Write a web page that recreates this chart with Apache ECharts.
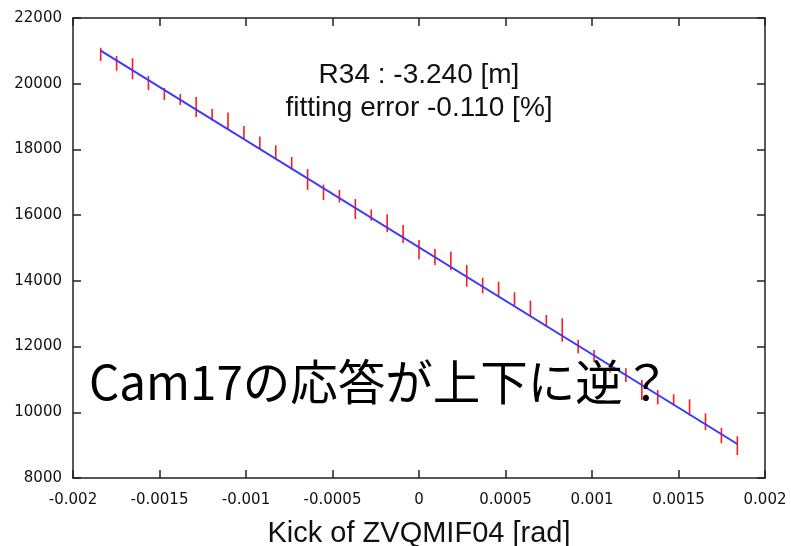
<!DOCTYPE html>
<html>
<head>
<meta charset="utf-8">
<script src="https://cdn.jsdelivr.net/npm/echarts@6/dist/echarts.min.js"></script>
<style>html,body{margin:0;padding:0;background:#fff;}#c{width:791px;height:546px;}</style>
</head>
<body>
<div id="c"></div>
<script>
// Kick values [rad]
var kicks = [-0.00184,-0.001748,-0.001656,-0.001564,-0.001472,-0.00138,-0.001288,-0.001196,-0.001104,-0.001012,
  -0.00092,-0.000828,-0.000736,-0.000644,-0.000552,-0.00046,-0.000368,-0.000276,-0.000184,-0.000092,
  0,0.000092,0.000184,0.000276,0.000368,0.00046,0.000552,0.000644,0.000736,0.000828,
  0.00092,0.001012,0.001104,0.001196,0.001288,0.00138,0.001472,0.001564,0.001656,0.001748,0.00184];
// Error bar upper ends
var barHigh = [21096,20843,20773,20235,19870,19687,19596,19230,19124,18713,
  18394,18126,17770,17404,16933,16765,16491,16172,16029,15700,
  15243,14970,14887,14483,14096,13974,13652,13402,12961,12863,
  12200,11896,11454,11342,10983,10678,10547,10395,9969,9522,9272];
// Error bar lower ends
var barLow = [20691,20396,20134,19809,19504,19352,18987,18880,18606,18287,
  17998,17718,17383,16765,16461,16385,15883,15831,15481,15152,
  14656,14483,14330,13822,13621,13500,13250,12915,12605,12148,
  11798,11530,11211,10922,10374,10237,10206,9902,9461,9056,8700];
// Fit line end points
var fitX = [-0.00184, 0.00184];
var fitY = [21005, 9035];
// Axis ticks
var xTicks = [-0.002,-0.0015,-0.001,-0.0005,0,0.0005,0.001,0.0015,0.002];
var yTicks = [8000,10000,12000,14000,16000,18000,20000,22000];

var barData = kicks.map(function(k,i){ return [k, barLow[i], barHigh[i]]; });
var fitData = fitX.map(function(x,i){ return [x, fitY[i]]; });

var xInt = Math.round((xTicks[1]-xTicks[0])*1e6)/1e6;
var yInt = yTicks[1]-yTicks[0];
function fmtX(v){ var r = Math.round((v - xTicks[0])/xInt); var t = xTicks[r]; return t===undefined ? '' : String(t); }
function fmtY(v){ var r = Math.round((v - yTicks[0])/yInt); var t = yTicks[r]; return t===undefined ? '' : String(t); }

var axisLine = {show:true, onZero:false, lineStyle:{color:'#222', width:1.5}};
var tick = {show:true, inside:true, length:8, lineStyle:{color:'#222', width:1.5}};
var lblFont = {fontFamily:'DejaVu Sans', fontSize:15, color:'#111'};

var chart = echarts.init(document.getElementById('c'), null, {renderer:'canvas'});
chart.setOption({
  animation:false,
  backgroundColor:'#fff',
  grid:{left:73, right:26, top:18, bottom:68, containLabel:false, outerBoundsMode:'none'},
  xAxis:[{
    type:'value', min:xTicks[0], max:xTicks[xTicks.length-1], interval:xInt,
    axisLine:axisLine, axisTick:tick, splitLine:{show:false},
    axisLabel:Object.assign({margin:15, formatter:fmtX}, lblFont),
    name:'Kick of ZVQMIF04 [rad]', nameLocation:'middle', nameGap:41,
    nameTextStyle:{fontFamily:'Liberation Sans', fontSize:29, color:'#111'}
  },{
    type:'value', position:'top', min:xTicks[0], max:xTicks[xTicks.length-1], interval:xInt,
    axisLine:axisLine, axisTick:tick, splitLine:{show:false}, axisLabel:{show:false}
  }],
  yAxis:[{
    type:'value', min:yTicks[0], max:yTicks[yTicks.length-1], interval:yInt,
    axisLine:axisLine, axisTick:tick, splitLine:{show:false},
    axisLabel:Object.assign({margin:11, formatter:fmtY}, lblFont)
  },{
    type:'value', position:'right', min:yTicks[0], max:yTicks[yTicks.length-1], interval:yInt,
    axisLine:axisLine, axisTick:tick, splitLine:{show:false}, axisLabel:{show:false}
  }],
  series:[{
    type:'custom', xAxisIndex:0, yAxisIndex:0, z:2,
    data:barData,
    renderItem:function(params, api){
      var p1 = api.coord([api.value(0), api.value(1)]);
      var p2 = api.coord([api.value(0), api.value(2)]);
      return {type:'line', shape:{x1:p1[0], y1:p1[1], x2:p2[0], y2:p2[1]},
        style:{stroke:'#ff1a1a', lineWidth:1.6}};
    }
  },{
    type:'line', xAxisIndex:0, yAxisIndex:0, z:3,
    data:fitData, symbol:'none',
    lineStyle:{color:'#3a3aff', width:2}
  }],
  graphic:[{
    type:'text', z:10,
    style:{text:'R34 : -3.240 [m]', x:419, y:75, textAlign:'center', textVerticalAlign:'middle', fontFamily:'Liberation Sans', fontSize:28, fill:'#111'}
  },{
    type:'text', z:10,
    style:{text:'fitting error -0.110 [%]', x:419, y:108, textAlign:'center', textVerticalAlign:'middle', fontFamily:'Liberation Sans', fontSize:28, fill:'#111'}
  },{
    type:'text', z:10,
    style:{text:'Cam17の応答が上下に逆？', x:89, y:382, textAlign:'left', textVerticalAlign:'middle', fontFamily:'Noto Sans CJK JP', fontSize:47.5, fill:'#000'}
  }]
});
</script>
</body>
</html>
